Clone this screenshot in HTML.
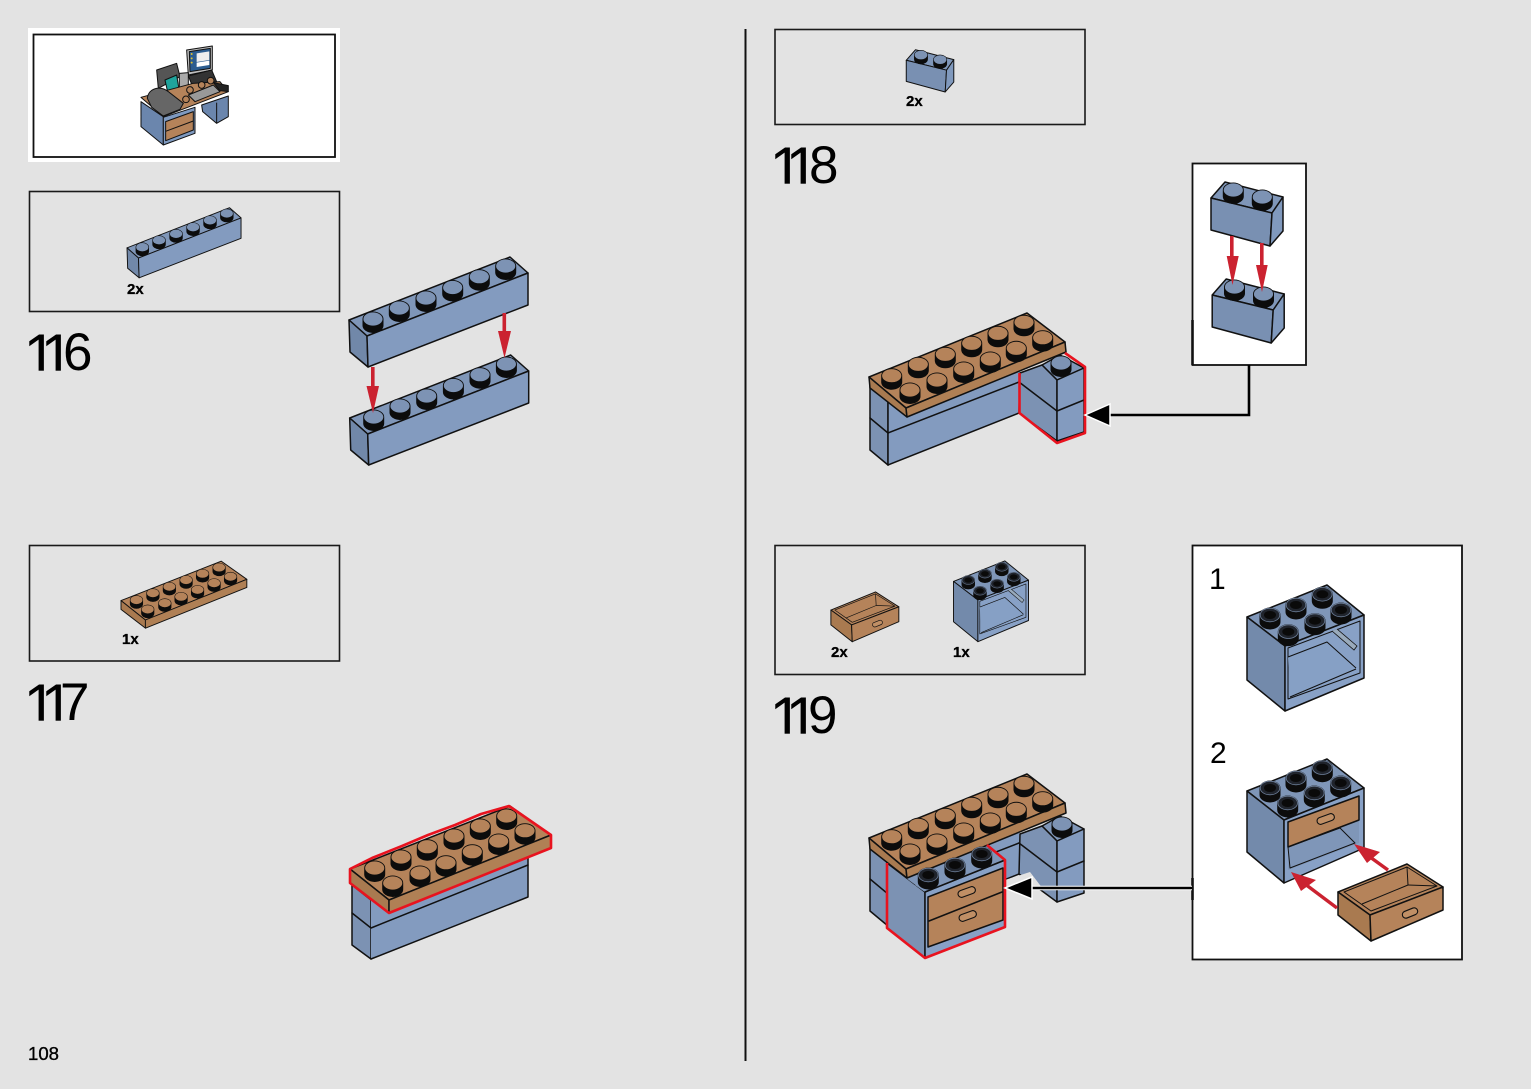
<!DOCTYPE html>
<html><head><meta charset="utf-8"><style>
html,body{margin:0;padding:0;background:#e3e3e3}
svg{display:block}
text{font-family:"Liberation Sans",sans-serif;fill:#000}
.n{font-size:53px}
.o{font-size:60px}
.q{font-size:15px;font-weight:bold;stroke:#000;stroke-width:.3px}
.l{stroke:#111;stroke-width:1.5;stroke-linejoin:round;stroke-linecap:round}
.t{stroke:#111;stroke-width:1;fill:none;stroke-linejoin:round}
.box{fill:none;stroke:#1a1a1a;stroke-width:1.6}
</style></head><body>
<svg width="1531" height="1089" viewBox="0 0 1531 1089" xmlns="http://www.w3.org/2000/svg">
<defs>
<g id="sb"><path d="M-10.5,0A10.5,7.5 0 0 1 10.5,0V6.5A10.5,7.5 0 0 1 -10.5,6.5Z" fill="#0c0c0c"/><ellipse cx="0" cy="0" rx="9.6" ry="6.6" fill="#7d93b4"/></g>
<g id="sn"><path d="M-10.5,0A10.5,7.5 0 0 1 10.5,0V6.5A10.5,7.5 0 0 1 -10.5,6.5Z" fill="#0c0c0c"/><ellipse cx="0" cy="0" rx="9.6" ry="6.6" fill="#b5835a"/></g>
<g id="sr"><path d="M-10.5,0A10.5,7.5 0 0 1 10.5,0V7A10.5,7.5 0 0 1 -10.5,7Z" fill="#0c0c0c"/><ellipse cx="0" cy="0" rx="9.8" ry="6.8" fill="#20242c" stroke="#6d7f9a" stroke-width=".8"/><ellipse cx="0" cy="0" rx="6" ry="4" fill="#0a0a0a"/></g>

<g id="b6">
<polygon points="349,320 510,257 528,273 367,336" fill="#7f96b8" class="l"/>
<polygon points="349,320 367,336 368,367 350,352" fill="#7188a9" class="l"/>
<polygon points="367,336 528,273 528,305 368,367" fill="#839bbf" class="l"/>
<use href="#sb" x="373" y="319"/><use href="#sb" x="399.3" y="308"/><use href="#sb" x="426" y="298"/><use href="#sb" x="452.7" y="287.5"/><use href="#sb" x="479.3" y="276.7"/><use href="#sb" x="505.7" y="266"/>
</g>

<g id="plate117">
<polygon points="350,869 510,806 551,835 389,900" fill="#b5835a" class="l"/>
<polygon points="350,869 389,900 389,913 350,883" fill="#a97a50" class="l"/>
<polygon points="389,900 551,835 551,848 389,913" fill="#b08055" class="l"/>
<use href="#sn" x="374.7" y="868"/><use href="#sn" x="401" y="857"/><use href="#sn" x="427.3" y="846.7"/><use href="#sn" x="454" y="836"/><use href="#sn" x="480.3" y="826"/><use href="#sn" x="506.7" y="816"/>
<use href="#sn" x="392.7" y="883"/><use href="#sn" x="420" y="873"/><use href="#sn" x="446" y="862.7"/><use href="#sn" x="472.3" y="851.7"/><use href="#sn" x="498.7" y="841"/><use href="#sn" x="525" y="830.7"/>
</g>

<g id="plate118">
<polygon points="869,377 1027,313 1065,342 906,408" fill="#b5835a" class="l"/>
<polygon points="869,377 906,408 907,417 870,388" fill="#a97a50" class="l"/>
<polygon points="906,408 1065,342 1066,352 907,417" fill="#b08055" class="l"/>
<use href="#sn" x="891.7" y="375.7"/><use href="#sn" x="918.3" y="364.3"/><use href="#sn" x="945.3" y="354.3"/><use href="#sn" x="971.7" y="343.3"/><use href="#sn" x="998" y="333.3"/><use href="#sn" x="1024" y="322.3"/>
<use href="#sn" x="910" y="390"/><use href="#sn" x="937" y="380"/><use href="#sn" x="963.7" y="369"/><use href="#sn" x="990.3" y="359"/><use href="#sn" x="1016.3" y="348.3"/><use href="#sn" x="1042.7" y="337.7"/>
</g>

<g id="back118">
<polygon points="870,385 888,400 888,465 870,450" fill="#7c92b3" class="l"/>
<polyline points="870,418 888,433" fill="none" class="l"/>
<polygon points="888,400 1020,350 1019,413 888,465" fill="#839bbf"/>
<polyline points="888,465 1019,413" fill="none" class="l"/>
<polyline points="888,433 1019,382" fill="none" class="l"/>
<line x1="888" y1="400" x2="888" y2="465" class="l"/>
</g>

<g id="stack">
<polygon points="1042,365 1060,355 1084,368 1057,380" fill="#7f96b8" class="l"/>
<polygon points="1020,373 1042,365 1057,380 1057,441 1019,413" fill="#7c92b3" class="l"/>
<polygon points="1057,380 1084,368 1084,432 1057,441" fill="#839bbf" class="l"/>
<polyline points="1019,382 1057,411 1084,400" fill="none" class="l"/>
</g>

<g id="brick2">
<polygon points="1211,198 1225,182 1283,197 1272,213" fill="#7f96b8" class="l"/>
<polygon points="1211,198 1272,213 1270,246 1211,230" fill="#7990b2" class="l"/>
<polygon points="1272,213 1283,197 1283,231 1270,246" fill="#8099bd" class="l"/>
<use href="#sb" x="1233.3" y="190"/><use href="#sb" x="1262.3" y="197"/>
</g>

<g id="cab">
<polygon points="1247,617 1327,585 1364,615 1285,646" fill="#7f96b8" class="l"/>
<polygon points="1247,617 1285,646 1285,711 1247,680" fill="#738aab" class="l"/>
<polygon points="1285,646 1364,615 1364,678 1285,711" fill="#88a1c6" class="l"/>
<polygon points="1288,648 1360,621 1360,673 1288,699" fill="#7f96b8" class="t"/>
<polygon points="1288,657 1327,642 1356,668 1290,697" fill="#86a0c5"/>
<polyline points="1288,657 1327,642 1356,668" class="t"/>
<polyline points="1290,697 1356,669" class="t"/>
<polyline points="1332,631 1354,650 1357,646 1337,629" fill="#9ab" stroke="#111" stroke-width=".8"/>
<use href="#sr" x="1270" y="615"/><use href="#sr" x="1296" y="605"/><use href="#sr" x="1322.3" y="594.3"/><use href="#sr" x="1288.3" y="631.7"/><use href="#sr" x="1315" y="620.7"/><use href="#sr" x="1341" y="610"/>
</g>

<g id="drawer">
<polygon points="1338,892 1407,864 1443,887 1370,915" fill="#b5835a" class="l"/>
<polygon points="1338,892 1370,915 1371,941 1338,915" fill="#a97a50" class="l"/>
<polygon points="1370,915 1443,887 1443,910 1371,941" fill="#b5835a" class="l"/>
<polygon points="1344,892 1407,867 1437,886 1371,911" fill="#bb8a60" class="t"/>
<polyline points="1362,904 1408,885 1407,867" class="t"/>
<polyline points="1408,885 1437,886" class="t"/>
<rect x="-8" y="-3.5" width="16" height="7" rx="3.5" transform="translate(1410,913) rotate(-22)" fill="#c08f65" stroke="#111" stroke-width="1.1"/>
</g>
</defs>

<rect width="1531" height="1089" fill="#e3e3e3"/>
<line x1="745.5" y1="29" x2="745.5" y2="1061" stroke="#111" stroke-width="2"/>

<!-- callout thumbnail -->
<rect x="28" y="28" width="312" height="134" fill="#fff"/>
<rect x="33.5" y="34.5" width="301.5" height="122.5" fill="#fff" stroke="#111" stroke-width="1.8"/>
<g transform="translate(20,20) scale(.3333)" stroke="#111" stroke-width="3" stroke-linejoin="round">
<polygon points="500,90 577,78 577,150 505,165" fill="#bdbdbd"/>
<polygon points="508,95 571,85 571,145 510,155" fill="#2c5d90"/>
<polygon points="530,100 568,94 568,120 530,126" fill="#eee" stroke="none"/>
<polygon points="530,128 568,122 568,135 530,141" fill="#fff" stroke="none"/>
<circle cx="515" cy="102" r="3" fill="#e0c030" stroke="none"/><circle cx="515" cy="115" r="3" fill="#e0c030" stroke="none"/><circle cx="515" cy="128" r="3" fill="#e0c030" stroke="none"/>
<polygon points="505,168 575,150 590,185 520,205" fill="#333"/>
<polygon points="410,150 470,130 480,170 415,205" fill="#555"/>
<polygon points="478,160 505,158 505,205 478,205" fill="#aaa"/>
<polygon points="435,180 470,165 480,225 445,225" fill="#1fa39c"/>
<polygon points="363,232 430,290 625,215 600,185 520,190" fill="#b5835a"/>
<polygon points="580,188 625,197 625,215 600,212" fill="#222"/>
<polygon points="505,225 580,195 600,215 525,245" fill="#999"/>
<path d="M382,235C385,205 420,195 445,215L490,250 480,268 430,288 395,262Z" fill="#666"/>
<polygon points="363,245 430,290 430,375 363,320" fill="#6b86ad"/>
<polygon points="430,292 525,262 525,340 430,375" fill="#7f9ac0"/>
<polygon points="437,305 520,275 520,330 437,362" fill="#b5835a"/>
<line x1="437" y1="334" x2="520" y2="303"/>
<polygon points="545,255 625,228 625,290 590,310 548,275" fill="#6b86ad"/>
<line x1="590" y1="248" x2="590" y2="310"/>
<circle cx="510" cy="210" r="10" fill="#b5835a"/><circle cx="545" cy="195" r="10" fill="#b5835a"/><circle cx="572" cy="182" r="10" fill="#b5835a"/><circle cx="498" cy="238" r="10" fill="#b5835a"/>
</g>

<!-- 116 -->
<rect x="29.5" y="191.5" width="310" height="120" class="box"/>
<g transform="translate(-95.3,44) scale(.637)"><use href="#b6"/></g>
<text class="q" x="127" y="294">2x</text>
<text class="o" x="23.5" y="376">1</text><text class="o" x="40.5" y="376">1</text><text class="n" x="63" y="370">6</text>
<rect x="23" y="370.7" width="52" height="8" fill="#e3e3e3"/>
<use href="#b6"/>
<use href="#b6" x="0.7" y="98"/>
<g fill="#cb2230">
<rect x="371" y="367" width="3.6" height="22"/><polygon points="366.5,386 379,386 373,413"/>
<rect x="502.5" y="313" width="3.6" height="20"/><polygon points="498,331 511,331 504.5,358"/>
</g>

<!-- 117 -->
<rect x="29.5" y="545.5" width="310" height="115.5" class="box"/>
<g transform="translate(-98.1,56.6) scale(.626)"><use href="#plate117"/></g>
<text class="q" x="122" y="644">1x</text>
<text class="o" x="23.5" y="726">1</text><text class="o" x="40.5" y="726">1</text><text class="n" x="60" y="720">7</text>
<rect x="23" y="720.7" width="52" height="8" fill="#e3e3e3"/>
<polygon points="352,885 371,900 371,959 352,945" fill="#7c92b3" class="l"/>
<polygon points="371,900 528,857 528,897 371,959" fill="#839bbf"/>
<polyline points="371,959 528,897 528,858" fill="none" class="l"/>
<polyline points="352,913 371,928 528,865" fill="none" class="l"/>
<use href="#plate117"/>
<polygon points="350,869 372,858 402,846 428,835 455,825 481,814 509,806 551,835 551,848 389,913 350,883" fill="none" stroke="#e8131f" stroke-width="2.6" stroke-linejoin="round"/>

<!-- 118 -->
<rect x="775" y="29.5" width="310" height="95" class="box"/>
<g transform="translate(107,-70.4) scale(.66)"><use href="#brick2"/></g>
<text class="q" x="906" y="106">2x</text>
<text class="o" x="769.5" y="189">1</text><text class="o" x="785.5" y="189">1</text><text class="n" x="809" y="183">8</text>
<rect x="769" y="183.7" width="52" height="8" fill="#e3e3e3"/>
<use href="#back118"/>
<use href="#stack"/>
<use href="#plate118"/>
<use href="#sb" x="1061" y="363"/>
<polyline points="1019.5,373 1019.5,413 1057,443 1085,433 1085,367 1065,353" fill="none" stroke="#e8131f" stroke-width="2.6" stroke-linejoin="round"/>

<rect x="1192.5" y="163.5" width="113.5" height="201.5" fill="#fff" stroke="#111" stroke-width="1.8"/>
<line x1="1192.5" y1="320" x2="1192.5" y2="365" stroke="#111" stroke-width="2.6"/>
<use href="#brick2"/>
<use href="#brick2" x="1.2" y="97"/>
<g fill="#cb2230">
<rect x="1230" y="236" width="3.6" height="22"/><polygon points="1226.7,256 1238.7,256 1232.5,285"/>
<rect x="1260" y="243" width="3.6" height="24"/><polygon points="1256,265 1267.7,265 1262,292"/>
</g>
<polyline points="1249,365 1249,415 1108,415" fill="none" stroke="#000" stroke-width="2.6"/>
<polygon points="1085,415 1110,404 1110,426" fill="#000" stroke="#fff" stroke-width="1.5"/>

<!-- 119 -->
<rect x="775" y="545.5" width="310" height="129" class="box"/>
<g transform="translate(-34.8,32.9) scale(.647)"><use href="#drawer"/></g>
<g transform="translate(154.2,185.9) scale(.641)"><use href="#cab"/></g>
<text class="q" x="831" y="657">2x</text>
<text class="q" x="953" y="657">1x</text>
<text class="o" x="769.5" y="739">1</text><text class="o" x="785.5" y="739">1</text><text class="n" x="808" y="733">9</text>
<rect x="769" y="733.7" width="52" height="8" fill="#e3e3e3"/>

<g transform="translate(0,461)"><use href="#back118"/><use href="#stack"/></g>
<polygon points="1005,880 1030,872 1043,889 1020,889 1005,888" fill="#e3e3e3"/>
<!-- cabinet -->
<polygon points="887,863 925,892 925,958 887,928" fill="#7c92b3" class="l"/>
<polygon points="925,892 1005,860 1005,927 925,958" fill="#88a1c6" class="l"/>
<polygon points="906,878 987,845 1005,860 925,892" fill="#7f96b8"/>
<g transform="translate(0,461)"><use href="#plate118"/></g>
<use href="#sb" x="1062" y="824"/>
<polygon points="915,885 985,852 1005,860 925,892" fill="#7f96b8"/>
<line x1="925" y1="892" x2="1005" y2="860" class="l"/>
<polygon points="928,897 1003,868 1003,920 928,947" fill="#b5835a" class="l"/>
<line x1="929" y1="921" x2="1002" y2="892" class="l"/>
<rect x="-9" y="-3.5" width="18" height="7" rx="3.5" transform="translate(966.7,892) rotate(-20)" fill="#c08f65" stroke="#111" stroke-width="1.1"/>
<rect x="-9" y="-3.5" width="18" height="7" rx="3.5" transform="translate(967.7,916) rotate(-20)" fill="#c08f65" stroke="#111" stroke-width="1.1"/>
<use href="#sr" x="928.3" y="875"/><use href="#sr" x="955" y="865"/><use href="#sr" x="981.7" y="854"/>
<polyline points="887,863 887,928 925,958 1005,927 1005,860 987,845" fill="none" stroke="#e8131f" stroke-width="2.6" stroke-linejoin="round"/>

<rect x="1192.5" y="545.5" width="269.5" height="414" fill="#fff" stroke="#111" stroke-width="1.8"/>
<line x1="1192.5" y1="878" x2="1192.5" y2="900" stroke="#111" stroke-width="2.6"/>
<polyline points="1192,888 1030,888" fill="none" stroke="#fff" stroke-width="4.5"/>
<polyline points="1192,888 1030,888" fill="none" stroke="#000" stroke-width="2.6"/>
<polygon points="1005,888 1032,877 1032,899" fill="#000" stroke="#fff" stroke-width="1.5"/>

<text x="1209" y="589" style="font-size:30px">1</text>
<text x="1210" y="763" style="font-size:30px">2</text>
<use href="#cab"/>
<!-- cabinet 2 -->
<polygon points="1247,791 1327,759 1364,788 1284,820" fill="#7f96b8" class="l"/>
<polygon points="1247,791 1284,820 1284,883 1247,852" fill="#738aab" class="l"/>
<polygon points="1284,820 1364,788 1364,848 1284,883" fill="#88a1c6" class="l"/>
<polygon points="1288,847 1359,820 1359,843 1288,870" fill="#7f96b8"/>
<polygon points="1288,847 1340,828 1355,843 1290,868" fill="#86a0c5" class="t"/>
<polygon points="1288,822 1359,796 1359,820 1288,847" fill="#b5835a" class="l"/>
<rect x="-9" y="-3.5" width="18" height="7" rx="3.5" transform="translate(1325.7,819) rotate(-20)" fill="#c08f65" stroke="#111" stroke-width="1.1"/>
<use href="#sr" x="1270" y="788"/><use href="#sr" x="1296" y="778"/><use href="#sr" x="1322.3" y="767.7"/><use href="#sr" x="1287.7" y="803"/><use href="#sr" x="1314.3" y="793"/><use href="#sr" x="1340.7" y="783"/>
<use href="#drawer"/>
<g fill="#cb2230">
<line x1="1337" y1="908" x2="1305" y2="884" stroke="#cb2230" stroke-width="3.4"/>
<polygon points="1291,872 1316,880 1301,891"/>
<line x1="1388" y1="870" x2="1370" y2="857" stroke="#cb2230" stroke-width="3.4"/>
<polygon points="1354,844 1380,852 1367,863"/>
</g>

<text x="28" y="1060" style="font-size:18.5px;stroke:#000;stroke-width:.35px" textLength="31" lengthAdjust="spacingAndGlyphs">108</text>
</svg>
</body></html>
